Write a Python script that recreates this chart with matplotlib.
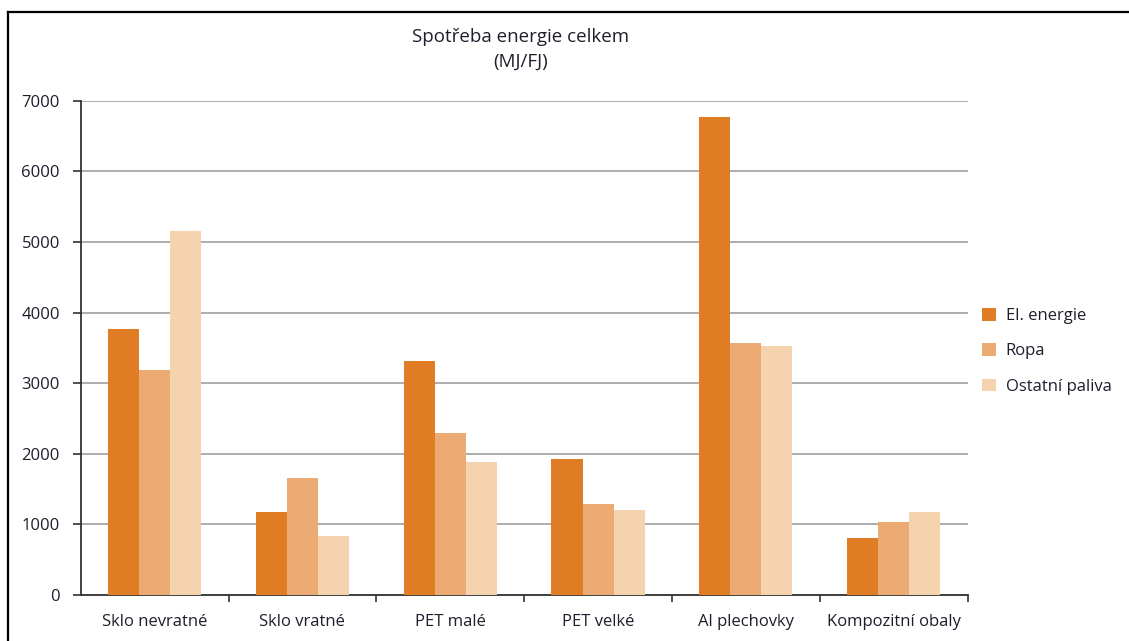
import matplotlib.pyplot as plt
import numpy as np
from matplotlib.lines import Line2D

categories = ['Sklo nevratné', 'Sklo vratné', 'PET malé', 'PET velké', 'Al plechovky', 'Kompozitní obaly']
el_energie = [3770, 1180, 3320, 1920, 6770, 810]
ropa = [3180, 1660, 2290, 1290, 3570, 1030]
ostatni = [5160, 840, 1880, 1200, 3520, 1180]
series = ['El. energie', 'Ropa', 'Ostatní paliva']
colors = ['#E07D24', '#ECAB72', '#F5D3AF']

txt = '#1e1e2c'
plt.rcParams['font.family'] = ['Open Sans', 'DejaVu Sans']

fig = plt.figure(figsize=(11.29, 6.41), dpi=100)
ax = fig.add_axes([0.0715, 0.0718, 0.7855, 0.771])

x = np.arange(len(categories))
w = 0.21
for i, (vals, lab, c) in enumerate(zip([el_energie, ropa, ostatni], series, colors)):
    ax.bar(x + (i - 1) * w, vals, width=w, color=c, label=lab, zorder=3)

ax.set_xlim(-0.5, len(categories) - 0.5)
ax.set_ylim(0, 7000)
ax.set_yticks(range(0, 7001, 1000))
ax.set_yticklabels([str(v) for v in range(0, 7001, 1000)])
ax.yaxis.grid(True, color='#a0a0a0', linewidth=1.2, zorder=0)
ax.set_axisbelow(True)

ax.set_xticks(x)
ax.set_xticklabels(categories)
ax.set_xticks(np.arange(0.5, len(categories), 1.0), minor=True)
ax.tick_params(axis='x', which='major', length=0, pad=14, labelsize=12, labelcolor=txt)
ax.tick_params(axis='x', which='minor', length=5, width=1.2, direction='out', color='#333333')
ax.tick_params(axis='y', length=6, width=1.2, color='#333333', pad=9, labelsize=12, labelcolor=txt)

for s in ['top', 'right']:
    ax.spines[s].set_visible(False)
for s in ['left', 'bottom']:
    ax.spines[s].set_linewidth(1.3)
    ax.spines[s].set_color('#333333')

fig.text(0.461, 0.943, 'Spotřeba energie celkem', ha='center', va='center', fontsize=13.5, color=txt)
fig.text(0.461, 0.904, '(MJ/FJ)', ha='center', va='center', fontsize=13.5, color=txt)

ax.legend(loc='center left', bbox_to_anchor=(0.870, 0.452), bbox_transform=fig.transFigure,
          frameon=False, handlelength=0.8, handleheight=0.8, handletextpad=0.6,
          labelspacing=1.15, fontsize=12, labelcolor=txt, borderaxespad=0, borderpad=0)

# frame around the figure (top and left edges)
fig.add_artist(Line2D([8 / 1129, 8 / 1129], [0, 1 - 12 / 641], color='black', linewidth=1.6, transform=fig.transFigure))
fig.add_artist(Line2D([8 / 1129, 1], [1 - 12 / 641, 1 - 12 / 641], color='black', linewidth=1.6, transform=fig.transFigure))

fig.savefig('out.png', dpi=100)
